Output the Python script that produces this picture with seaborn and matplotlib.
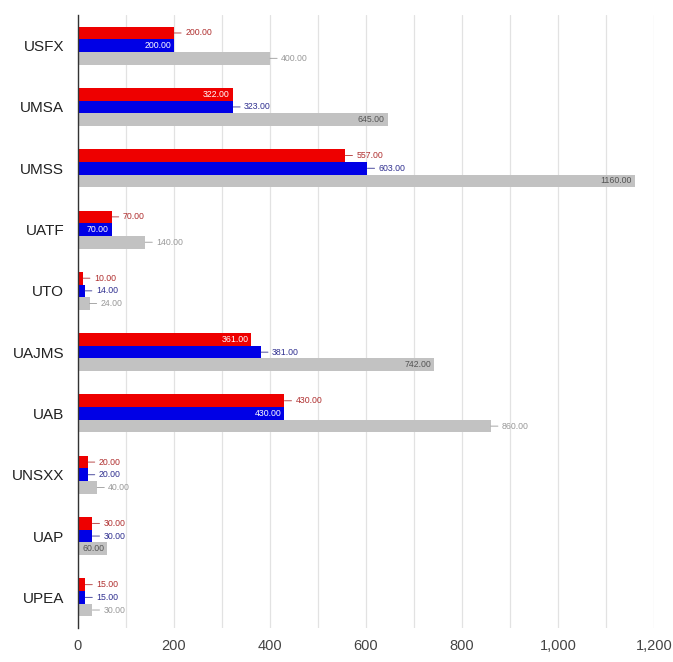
import matplotlib
matplotlib.use("Agg")
import matplotlib.pyplot as plt
import seaborn as sns
import pandas as pd
from matplotlib.ticker import FuncFormatter, MultipleLocator

categories = ["USFX", "UMSA", "UMSS", "UATF", "UTO", "UAJMS", "UAB", "UNSXX", "UAP", "UPEA"]
serie_a = [200, 322, 557, 70, 10, 361, 430, 20, 30, 15]
serie_b = [200, 323, 603, 70, 14, 381, 430, 20, 30, 15]
total = [400, 645, 1160, 140, 24, 742, 860, 40, 60, 30]
series_names = ["Serie A", "Serie B", "Total"]

# label placement (True = inside bar), per series then per category
inside_a = [False, True, False, False, False, True, False, False, False, False]
inside_b = [True, False, False, True, False, False, True, False, False, False]
inside_t = [False, True, True, False, False, True, False, False, True, False]

colors = ["#ee0000", "#0000e6", "#c2c2c2"]
out_text = ["#b03030", "#303090", "#999999"]
in_text = ["white", "white", "#555555"]

rows = []
for name, vals in zip(series_names, [serie_a, serie_b, total]):
    for c, v in zip(categories, vals):
        rows.append({"cat": c, "val": v, "serie": name})
df = pd.DataFrame(rows)

sns.set_style("white")
plt.rcParams["font.family"] = ["Liberation Sans", "DejaVu Sans"]

fig = plt.figure(figsize=(6.73, 6.62), dpi=100)
ax = fig.add_axes([78 / 673, 1 - 628 / 662, (654 - 78) / 673, (628 - 15) / 662])

sns.barplot(data=df, y="cat", x="val", hue="serie", palette=colors, width=0.62,
            orient="h", saturation=1, legend=False, ax=ax, order=categories,
            hue_order=series_names, edgecolor="none", linewidth=0)

ax.set_xlim(0, 1200)
ax.set_ylim(len(categories) - 0.5, -0.5)
ax.xaxis.set_major_locator(MultipleLocator(200))
ax.xaxis.set_minor_locator(MultipleLocator(100))
ax.xaxis.set_major_formatter(FuncFormatter(lambda v, p: f"{int(v):,}"))
ax.grid(axis="x", which="both", color="#e2e2e2", linewidth=0.9)
ax.set_axisbelow(True)
for s in ["top", "right", "bottom"]:
    ax.spines[s].set_visible(False)
ax.spines["left"].set_color("#333333")
ax.spines["left"].set_linewidth(1.0)
ax.tick_params(axis="x", which="both", length=0, labelsize=10.5, labelcolor="#444444", pad=8)
ax.tick_params(axis="y", length=0, labelsize=11, labelcolor="#222222", pad=10)
ax.set_xlabel("")
ax.set_ylabel("")

flags = [inside_a, inside_b, inside_t]
for si, cont in enumerate(ax.containers):
    for ci, patch in enumerate(cont.patches):
        w = patch.get_width()
        yc = patch.get_y() + patch.get_height() / 2
        txt = f"{w:.2f}"
        if flags[si][ci]:
            ax.annotate(txt, xy=(w, yc), xytext=(-2, 0), textcoords="offset points",
                        ha="right", va="center", fontsize=6.3, color=in_text[si])
        else:
            ax.annotate(txt, xy=(w, yc), xytext=(8, 0), textcoords="offset points",
                        ha="left", va="center", fontsize=6.3, color=out_text[si],
                        arrowprops=dict(arrowstyle="-", color=out_text[si], lw=0.6,
                                        shrinkA=0.5, shrinkB=0))

fig.savefig("out.png", dpi=100)
